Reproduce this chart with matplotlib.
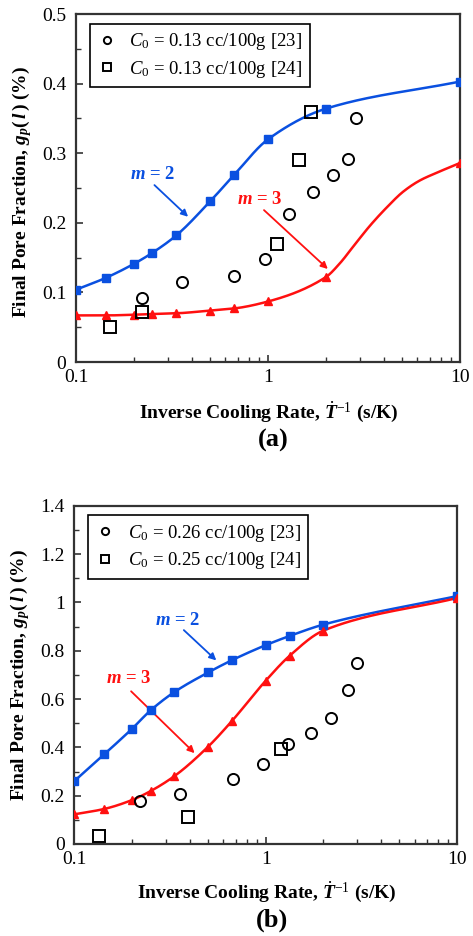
import numpy as np
import matplotlib
matplotlib.use("Agg")
import matplotlib.pyplot as plt
from matplotlib.ticker import MultipleLocator, FixedLocator, NullFormatter

plt.rcParams['font.family'] = ['Liberation Serif', 'DejaVu Serif']
plt.rcParams['mathtext.fontset'] = 'custom'
plt.rcParams['mathtext.rm'] = 'Liberation Serif'
plt.rcParams['mathtext.it'] = 'Liberation Serif:italic'
plt.rcParams['mathtext.bf'] = 'Liberation Serif:bold'
plt.rcParams['mathtext.bfit'] = 'Liberation Serif:italic:bold'

BLUE = '#0a50e0'
RED = '#ff1010'
SPINE = '#333333'

# ---- panel (a) data ----
x_model_a = [0.1, 0.143, 0.2, 0.25, 0.333, 0.5, 0.667, 1.0, 2.0, 10.0]
m2_a = [0.104, 0.121, 0.141, 0.157, 0.182, 0.231, 0.269, 0.320, 0.364, 0.403]
m3_a = [0.067, 0.067, 0.068, 0.069, 0.070, 0.074, 0.077, 0.087, 0.122, 0.286]
# model curve for m = 3 between the last two markers
x_curve3_a = [2.37, 2.78, 3.40, 4.15, 5.07, 6.19, 7.57]
y_curve3_a = [0.142, 0.166, 0.196, 0.222, 0.245, 0.261, 0.272]
x_exp23_a = [0.22, 0.355, 0.668, 0.965, 1.29, 1.72, 2.17, 2.60, 2.87]
y_exp23_a = [0.092, 0.115, 0.123, 0.148, 0.212, 0.244, 0.269, 0.292, 0.350]
x_exp24_a = [0.150, 0.22, 1.11, 1.445, 1.675]
y_exp24_a = [0.050, 0.072, 0.170, 0.290, 0.359]

# ---- panel (b) data ----
x_model_b = [0.1, 0.143, 0.2, 0.25, 0.333, 0.5, 0.667, 1.0, 1.333, 2.0, 10.0]
m2_b = [0.261, 0.371, 0.477, 0.553, 0.629, 0.710, 0.761, 0.823, 0.861, 0.908, 1.026]
m3_b = [0.123, 0.145, 0.182, 0.219, 0.281, 0.403, 0.510, 0.676, 0.779, 0.883, 1.018]
x_exp23_b = [0.22, 0.356, 0.671, 0.97, 1.31, 1.72, 2.19, 2.70, 3.01]
y_exp23_b = [0.179, 0.207, 0.268, 0.330, 0.414, 0.458, 0.520, 0.639, 0.749]
x_exp24_b = [0.134, 0.393, 1.2]
y_exp24_b = [0.033, 0.110, 0.392]


def smooth(x, y, n=40):
    # monotone cubic (pchip-style) curve through the points, in log-x space
    order = np.argsort(x)
    lx = np.log10(np.asarray(x, float)[order])
    y = np.asarray(y, float)[order]
    h = np.diff(lx)
    d = np.diff(y) / h
    m = np.zeros_like(y)
    for k in range(1, len(y) - 1):
        if d[k - 1] * d[k] > 0:
            w1 = 2 * h[k] + h[k - 1]
            w2 = h[k] + 2 * h[k - 1]
            m[k] = (w1 + w2) / (w1 / d[k - 1] + w2 / d[k])
    # end slopes: plain secants
    m[0] = d[0]
    m[-1] = d[-1]
    xs, ys = [], []
    t = np.linspace(0, 1, n)
    h00 = 2 * t ** 3 - 3 * t ** 2 + 1
    h10 = t ** 3 - 2 * t ** 2 + t
    h01 = -2 * t ** 3 + 3 * t ** 2
    h11 = t ** 3 - t ** 2
    for k in range(len(h)):
        xs.append(lx[k] + t * h[k])
        ys.append(h00 * y[k] + h10 * h[k] * m[k] + h01 * y[k + 1] + h11 * h[k] * m[k + 1])
    return 10 ** np.concatenate(xs), np.concatenate(ys)


def style_axes(ax, ymax, ymaj, ymin):
    ax.set_xscale('log')
    ax.set_xlim(0.1, 10)
    ax.set_ylim(0, ymax)
    ax.yaxis.set_major_locator(MultipleLocator(ymaj))
    ax.yaxis.set_minor_locator(MultipleLocator(ymin))
    ax.xaxis.set_major_locator(FixedLocator([0.1, 1, 10]))
    ax.xaxis.set_major_formatter(plt.FuncFormatter(lambda v, p: '%g' % v))
    ax.xaxis.set_minor_formatter(NullFormatter())
    ax.yaxis.set_major_formatter(plt.FuncFormatter(lambda v, p: '%g' % round(v, 2)))
    ax.tick_params(which='both', direction='in', top=False, right=False,
                   labelsize=14, colors='black')
    ax.tick_params(which='major', length=5, width=1.2, color=SPINE)
    ax.tick_params(which='minor', length=3.5, width=1.0, color=SPINE)
    ax.tick_params(axis='x', which='major', pad=5)
    ax.tick_params(axis='y', which='major', pad=7)
    for s in ax.spines.values():
        s.set_color(SPINE)
        s.set_linewidth(1.6)
    ax.set_xlabel(r'Inverse Cooling Rate, $\dot{\mathbfit{T}}^{-1}$ (s/K)',
                  fontsize=14, fontweight='bold')
    ax.set_ylabel(r'Final Pore Fraction, $\mathbfit{g}_{\mathbfit{p}}\mathbf{(}\,\mathbfit{l}\,\mathbf{)}$ (%)',
                  fontsize=14, fontweight='bold')


def draw_panel(ax, xm, m2, m3, x23, y23, x24, y24, lab23, lab24, xc3=(), yc3=()):
    sx, sy = smooth(xm, m2)
    ax.plot(sx, sy, color=BLUE, lw=1.8, zorder=3)
    ax.plot(xm, m2, 's', color=BLUE, ms=5.5, zorder=4)
    sx, sy = smooth(list(xm) + list(xc3), list(m3) + list(yc3))
    ax.plot(sx, sy, color=RED, lw=1.8, zorder=3)
    ax.plot(xm, m3, '^', color=RED, ms=6, zorder=4)
    ax.plot(x23, y23, 'o', mfc='none', mec='black', mew=1.4, ms=8, ls='none',
            label=lab23, zorder=5)
    ax.plot(x24, y24, 's', mfc='none', mec='black', mew=1.4, ms=8, ls='none',
            label=lab24, zorder=5)


def add_legend(ax):
    leg = ax.legend(loc='upper left', bbox_to_anchor=(0.036, 0.972), fontsize=13.5,
                    frameon=True, fancybox=False, edgecolor='black', framealpha=1,
                    handlelength=1.0, handletextpad=0.7, borderpad=0.4,
                    borderaxespad=0, labelspacing=0.35, markerscale=0.65)
    leg.get_frame().set_linewidth(1.2)


fig = plt.figure(figsize=(4.73, 9.36), dpi=100)

# ---------------- (a) ----------------
ax1 = fig.add_axes([0.1607, 0.6132, 0.8118, 0.3718])
draw_panel(ax1, x_model_a, m2_a, m3_a, x_exp23_a, y_exp23_a, x_exp24_a, y_exp24_a,
           r'$C_0$ = 0.13 cc/100g [23]', r'$C_0$ = 0.13 cc/100g [24]',
           x_curve3_a, y_curve3_a)
style_axes(ax1, 0.5, 0.1, 0.05)
ax1.xaxis.set_label_coords(0.503, -0.108)
ax1.yaxis.set_label_coords(-0.11, 0.49)
add_legend(ax1)
ax1.text(0.25, 0.270, r'$\mathbfit{m}$ = 2', color=BLUE, fontsize=13.5,
         fontweight='bold', ha='center', va='center')
ax1.annotate('', xy=(0.393, 0.206), xytext=(0.25, 0.257),
             arrowprops=dict(arrowstyle='-|>', color=BLUE, lw=1.3, mutation_scale=10))
ax1.text(0.90, 0.233, r'$\mathbfit{m}$ = 3', color=RED, fontsize=13.5,
         fontweight='bold', ha='center', va='center')
ax1.annotate('', xy=(2.10, 0.131), xytext=(0.93, 0.221),
             arrowprops=dict(arrowstyle='-|>', color=RED, lw=1.3, mutation_scale=10))
fig.text(273 / 473, 1 - 440 / 936, '(a)', fontsize=19, fontweight='bold',
         ha='center', va='center')

# ---------------- (b) ----------------
ax2 = fig.add_axes([0.1575, 0.0983, 0.8087, 0.3614])
draw_panel(ax2, x_model_b, m2_b, m3_b, x_exp23_b, y_exp23_b, x_exp24_b, y_exp24_b,
           r'$C_0$ = 0.26 cc/100g [23]', r'$C_0$ = 0.25 cc/100g [24]')
style_axes(ax2, 1.4, 0.2, 0.1)
ax2.xaxis.set_label_coords(0.503, -0.106)
ax2.yaxis.set_label_coords(-0.11, 0.50)
add_legend(ax2)
ax2.text(0.347, 0.927, r'$\mathbfit{m}$ = 2', color=BLUE, fontsize=13.5,
         fontweight='bold', ha='center', va='center')
ax2.annotate('', xy=(0.565, 0.752), xytext=(0.364, 0.893),
             arrowprops=dict(arrowstyle='-|>', color=BLUE, lw=1.3, mutation_scale=10))
ax2.text(0.191, 0.686, r'$\mathbfit{m}$ = 3', color=RED, fontsize=13.5,
         fontweight='bold', ha='center', va='center')
ax2.annotate('', xy=(0.435, 0.368), xytext=(0.193, 0.640),
             arrowprops=dict(arrowstyle='-|>', color=RED, lw=1.3, mutation_scale=10))
fig.text(272 / 473, 1 - 920 / 936, '(b)', fontsize=19, fontweight='bold',
         ha='center', va='center')

fig.savefig('out.png', dpi=100)
